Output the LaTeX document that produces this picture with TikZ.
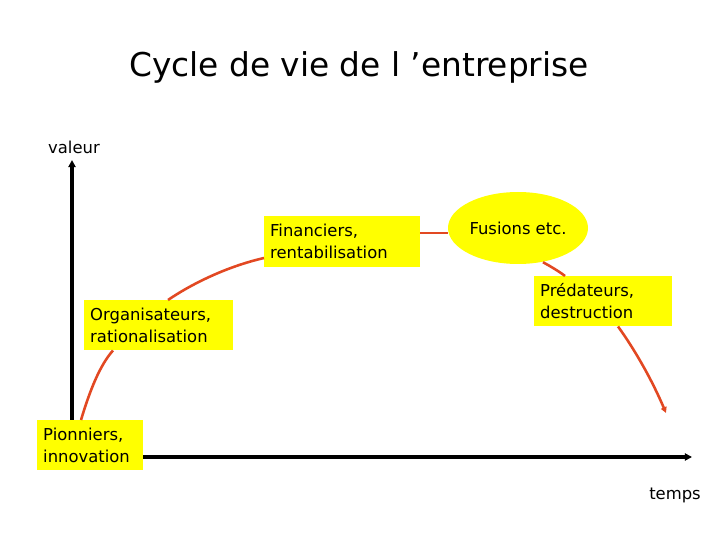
\documentclass[tikz,border=0pt]{standalone}
\usepackage{fontspec}
\setmainfont{DejaVu Sans}
\usetikzlibrary{shapes.geometric,arrows.meta}
\definecolor{curve}{RGB}{226,72,34}
\definecolor{boxy}{RGB}{255,255,0}
\begin{document}
\begin{tikzpicture}[x=0.03cm,y=-0.03cm,
  txt/.style={font=\fontsize{14}{19}\selectfont},
  lbl/.style={txt,fill=boxy,align=left,inner xsep=0.18cm,inner ysep=0pt,anchor=north west},
  axis/.style={line width=2.6pt,-{Triangle[length=6pt,width=6pt]}},
  red/.style={draw=curve,line width=2.2pt}]
\useasboundingbox (0,0) rectangle (720,540);
\node (title) at (359,67) {\fontsize{28}{34}\selectfont Cycle de vie de l ’entreprise};
\node[txt] (val) at (74,147) {valeur};
\node[txt] (tps) at (675,495) {temps};
\coordinate (o) at (72,457);
\coordinate (ytop) at (72,160);
\coordinate (xend) at (692,457);
\draw[axis] (o) -- (ytop);
\draw[axis] (o) -- (xend);
\node[lbl,text width=94*0.03cm,minimum height=50*0.03cm] (pio) at (37,420) {Pionniers,\\innovation};
\node[lbl,text width=137*0.03cm,minimum height=50*0.03cm] (org) at (84,300) {Organisateurs,\\rationalisation};
\node[lbl,text width=144*0.03cm,minimum height=51*0.03cm] (fin) at (264,216) {Financiers,\\rentabilisation};
\node[ellipse,fill=boxy,minimum width=140*0.03cm,minimum height=72*0.03cm,txt,inner sep=0pt] (fus) at (518,228) {Fusions etc.};
\node[lbl,text width=126*0.03cm,minimum height=50*0.03cm] (pre) at (534,276) {Prédateurs,\\destruction};
\coordinate (end) at (666,413);
\draw[red] ([xshift=44*0.03cm]pio.north west) .. controls (90,390) and (100,365) .. ([xshift=29*0.03cm]org.south west);
\draw[red] ([xshift=84*0.03cm]org.north west) .. controls (190,285) and (225,267) .. ([yshift=-42*0.03cm]fin.north west);
\draw[red] ([yshift=-17*0.03cm]fin.north east) -- ([yshift=-5*0.03cm]fus.west);
\draw[red] ([xshift=25*0.03cm,yshift=2*0.03cm]fus.south) .. controls (550,266) and (560,272) .. ([xshift=31*0.03cm]pre.north west);
\draw[red,-{Triangle[length=5pt,width=5pt]}] ([xshift=84*0.03cm]pre.south west) .. controls (635,350) and (652,380) .. (end);
\end{tikzpicture}
\end{document}
